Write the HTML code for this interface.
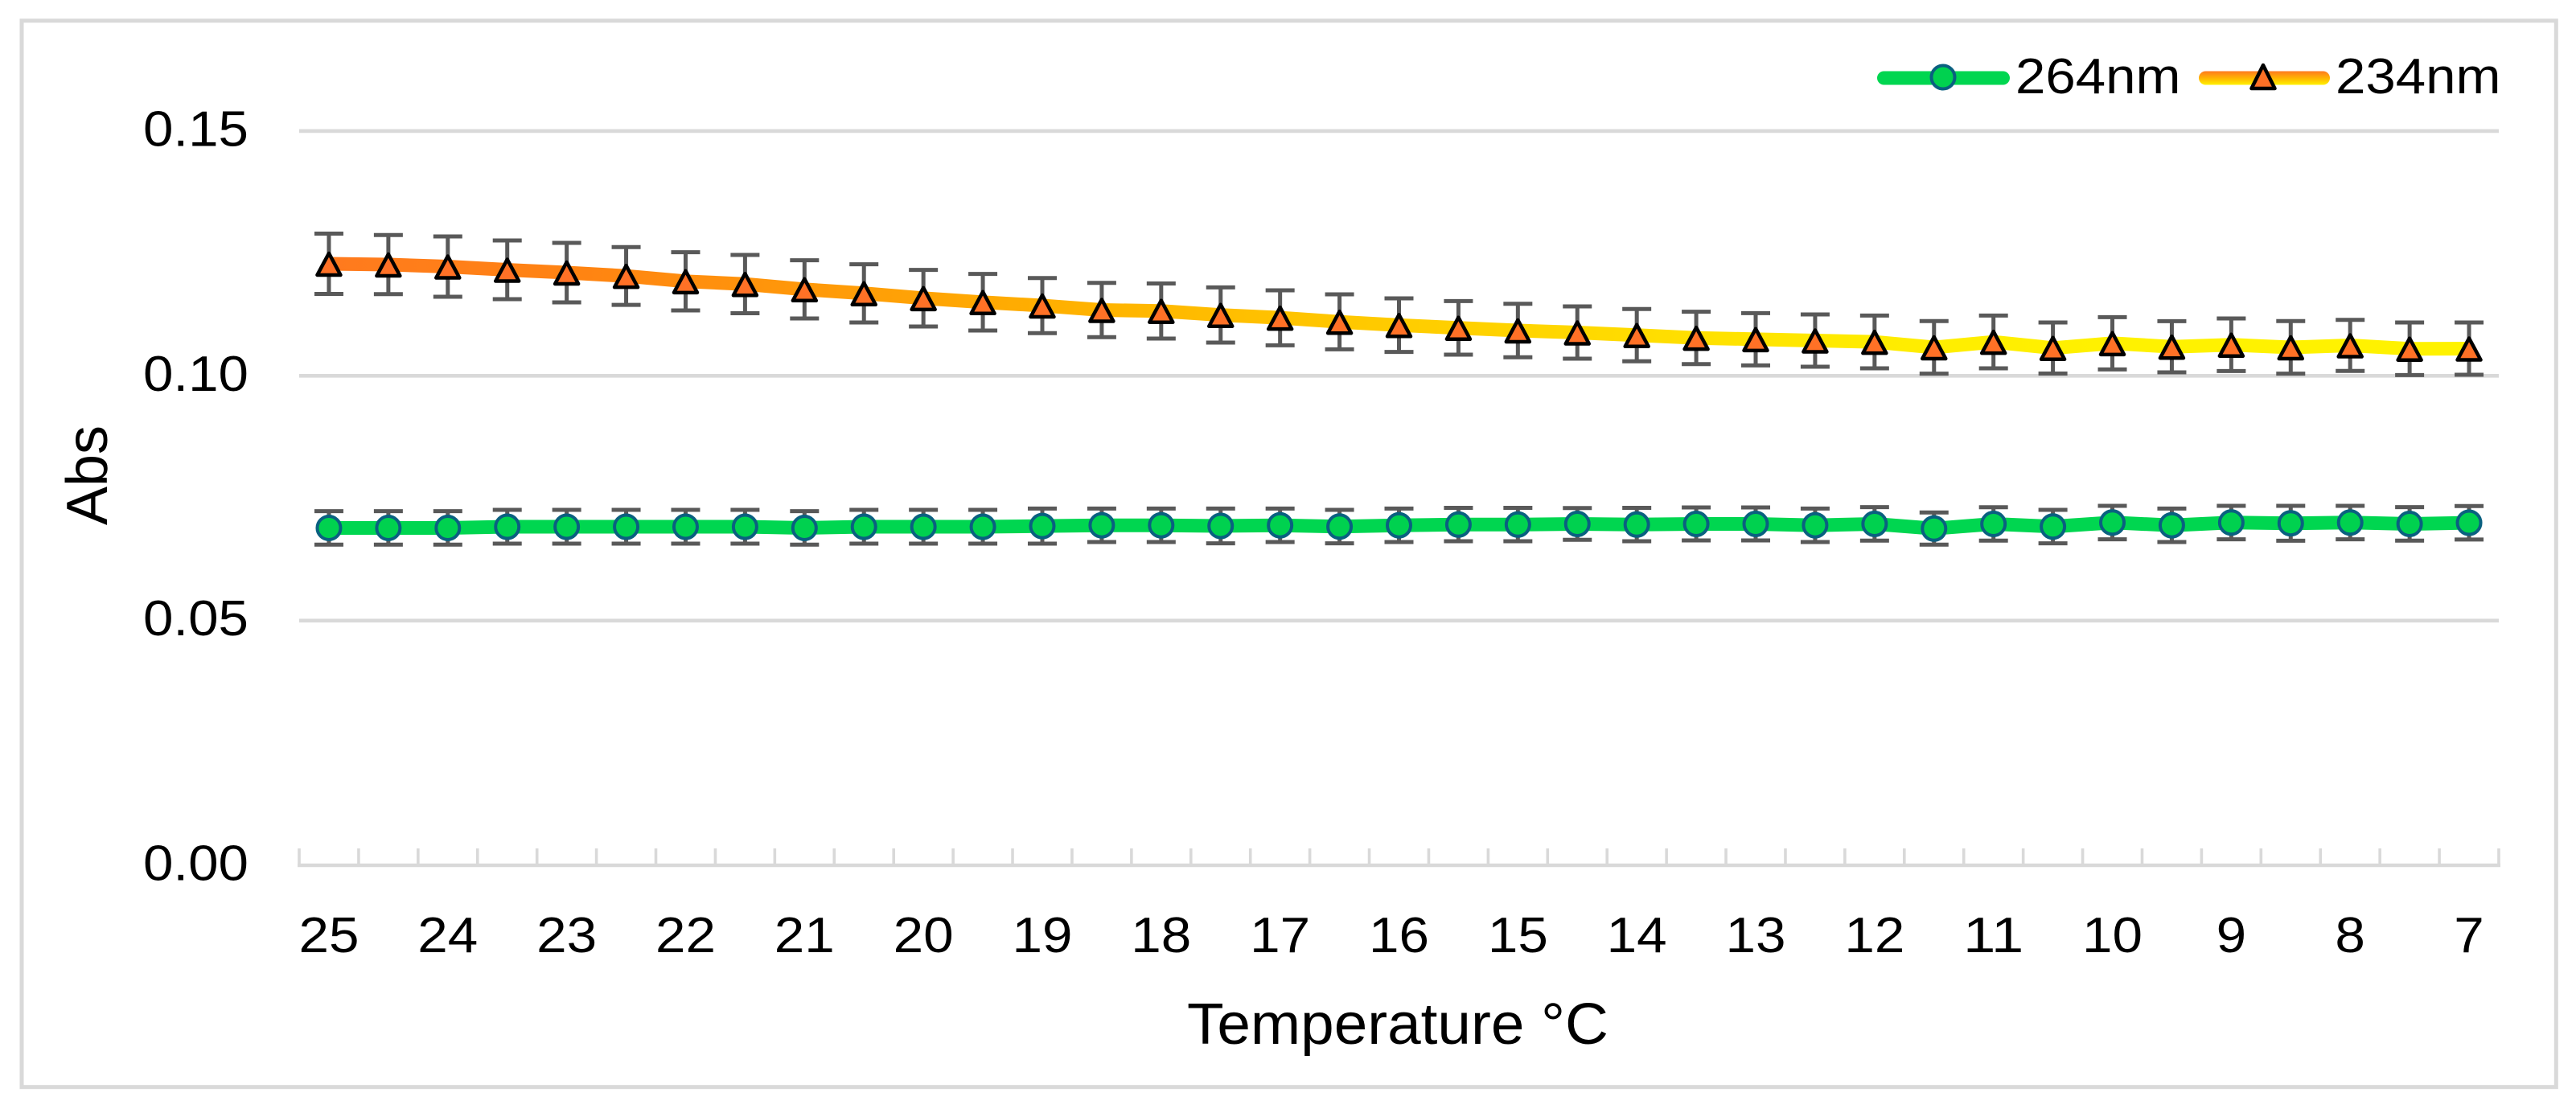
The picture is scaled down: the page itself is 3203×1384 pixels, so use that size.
<!DOCTYPE html>
<html lang="en">
<head>
<meta charset="utf-8">
<title>Absorbance vs Temperature</title>
<style>
html,body{margin:0;padding:0;background:#fff;width:3203px;height:1384px;overflow:hidden}
svg{display:block}
text{font-family:"Liberation Sans",sans-serif;fill:#000}
</style>
</head>
<body>
<svg id="chart" xmlns="http://www.w3.org/2000/svg" width="3203" height="1384" viewBox="0 0 3203 1384">
  <defs>
    <linearGradient id="orangeLine" gradientUnits="userSpaceOnUse" x1="409" y1="0" x2="3070" y2="0">
      <stop offset="0" stop-color="#ff7a1e"/>
      <stop offset="0.12" stop-color="#ff8412"/>
      <stop offset="0.34" stop-color="#ffb000"/>
      <stop offset="0.5" stop-color="#ffcc00"/>
      <stop offset="0.72" stop-color="#ffec00"/>
      <stop offset="0.85" stop-color="#fff200"/>
      <stop offset="1" stop-color="#fff200"/>
    </linearGradient>
    <linearGradient id="orangeLegend" x1="0" y1="0" x2="0" y2="1">
      <stop offset="0" stop-color="#ff7a1e"/>
      <stop offset="0.55" stop-color="#ffb800"/>
      <stop offset="1" stop-color="#fff200"/>
    </linearGradient>
  </defs>
  <rect x="27" y="25.7" width="3151.3" height="1326" fill="#fff" stroke="#d9d9d9" stroke-width="5"/>
  <g id="grid"></g>
  <g id="yLabels"></g>
  <g id="xAxis"></g>
  <g id="xLabels"></g>
  <text transform="translate(133,591) rotate(-90)" x="-62" y="0" font-size="72" textLength="124" lengthAdjust="spacingAndGlyphs">Abs</text>
  <text x="1476" y="1298" font-size="72" textLength="524" lengthAdjust="spacingAndGlyphs">Temperature °C</text>
  <g id="series264"></g>
  <g id="series234"></g>
  <g>
    <g>
      <rect x="2334" y="88.5" width="165" height="17" rx="8.5" fill="#00d650"/>
      <circle cx="2416" cy="96" r="14.5" fill="#00d14f" stroke="#0a6080" stroke-width="4"/>
      <text x="2506" y="116" font-size="62.5" textLength="205.5" lengthAdjust="spacingAndGlyphs">264nm</text>
    </g>
    <g>
      <rect x="2734" y="88.5" width="163" height="17" rx="8.5" fill="url(#orangeLegend)"/>
      <path d="M2814 81 L2828.5 110 L2799.5 110 Z" fill="#ff7126" stroke="#000" stroke-width="4.5" stroke-linejoin="round"/>
      <text x="2904" y="116" font-size="62.5" textLength="205.5" lengthAdjust="spacingAndGlyphs">234nm</text>
    </g>
  </g>
</svg>
<script>
const categories = [25,24.5,24,23.5,23,22.5,22,21.5,21,20.5,20,19.5,19,18.5,18,17.5,17,16.5,16,15.5,15,14.5,14,13.5,13,12.5,12,11.5,11,10.5,10,9.5,9,8.5,8,7.5,7];
const yTicks = [0,0.05,0.10,0.15];
const yTickLabels = ["0.00","0.05","0.10","0.15"];
const values264 = [0.06892,0.06892,0.06892,0.06916,0.06916,0.06916,0.06916,0.06916,0.06892,0.06916,0.06916,0.06916,0.06930,0.06946,0.06946,0.06933,0.06946,0.06920,0.06946,0.06961,0.06961,0.06974,0.06961,0.06974,0.06974,0.06946,0.06974,0.06879,0.06974,0.06920,0.07002,0.06946,0.07002,0.06987,0.07002,0.06974,0.06998];
const errors264 = [0.00342,0.00342,0.00342,0.00345,0.00345,0.00345,0.00345,0.00345,0.00342,0.00345,0.00345,0.00345,0.00358,0.00342,0.00342,0.00356,0.00342,0.00342,0.00342,0.00341,0.00341,0.00325,0.00341,0.00336,0.00336,0.00342,0.00342,0.00328,0.00341,0.00342,0.00342,0.00342,0.00342,0.00356,0.00342,0.00342,0.00342];
const values234 = [0.12289,0.12272,0.12231,0.12165,0.12108,0.12039,0.11930,0.11874,0.11766,0.11684,0.11585,0.11503,0.11434,0.11344,0.11324,0.11242,0.11185,0.11102,0.11035,0.10979,0.10925,0.10884,0.10830,0.10774,0.10747,0.10720,0.10692,0.10580,0.10692,0.10567,0.10665,0.10593,0.10634,0.10580,0.10621,0.10552,0.10555];
const errors234 = [0.00616,0.00603,0.00616,0.00600,0.00608,0.00591,0.00595,0.00595,0.00595,0.00595,0.00578,0.00578,0.00563,0.00555,0.00563,0.00563,0.00562,0.00562,0.00547,0.00547,0.00547,0.00534,0.00534,0.00534,0.00534,0.00534,0.00539,0.00537,0.00539,0.00522,0.00534,0.00522,0.00537,0.00537,0.00522,0.00537,0.00534];

const SVGNS = 'http://www.w3.org/2000/svg';
const plotLeft = 372, plotRight = 3107, plotBottom = 1076, pxPerUnit = 6087;
const band = (plotRight - plotLeft) / categories.length;
function xScale(i){ return plotLeft + band * (i + 0.5); }
function yScale(v){ return plotBottom - v * pxPerUnit; }
function make(tag, attrs, parent){
  const el = document.createElementNS(SVGNS, tag);
  for (const k in attrs) el.setAttribute(k, attrs[k]);
  parent.appendChild(el);
  return el;
}

const gridG = document.getElementById('grid');
const yLabelG = document.getElementById('yLabels');
yTicks.forEach(function(t, i){
  if (t !== 0) {
    const gl = make('line', {x1:plotLeft, x2:plotRight, y1:yScale(t), y2:yScale(t), stroke:'#d9d9d9', 'stroke-width':4.6}, gridG);
    
    
  }
  const lab = make('text', {x:178, y:yScale(t) + 18.5, 'font-size':62.5, textLength:131, lengthAdjust:'spacingAndGlyphs'}, yLabelG);
  lab.textContent = yTickLabels[i];
  
  
});

const xAxisG = document.getElementById('xAxis');
const axisLine = make('line', {x1:plotLeft - 2, x2:plotRight + 2, y1:plotBottom, y2:plotBottom, stroke:'#d9d9d9', 'stroke-width':4.4}, xAxisG);


for (let i = 0; i <= categories.length; i++) {
  const tx = plotLeft + band * i;
  const tick = make('line', {x1:tx, x2:tx, y1:1055, y2:plotBottom, stroke:'#d9d9d9', 'stroke-width':3.6}, xAxisG);
  
  
}

const xLabelG = document.getElementById('xLabels');
categories.forEach(function(c, i){
  if (!Number.isInteger(c)) return;
  const str = String(c);
  const len = str.length * 37.5;
  const lab = make('text', {x:xScale(i) - len / 2, y:1184, 'font-size':62.5, textLength:len, lengthAdjust:'spacingAndGlyphs'}, xLabelG);
  lab.textContent = str;
  
  
});

function linePoints(vals){
  return vals.map(function(v, i){ return xScale(i).toFixed(2) + ',' + yScale(v).toFixed(2); }).join(' ');
}
function drawErrors(parent, vals, errs){
  vals.forEach(function(v, i){
    const x = xScale(i), hi = yScale(v + errs[i]), lo = yScale(v - errs[i]);
    const d = 'M' + x + ' ' + hi + 'V' + lo + 'M' + (x - 18) + ' ' + hi + 'H' + (x + 18) + 'M' + (x - 18) + ' ' + lo + 'H' + (x + 18);
    const bar = make('path', {d:d, fill:'none', stroke:'#595959', 'stroke-width':5}, parent);
    
    
  });
}

const g264 = document.getElementById('series264');
const line264 = make('polyline', {points:linePoints(values264), fill:'none', stroke:'#00d650', 'stroke-width':17, 'stroke-linejoin':'round'}, g264);


drawErrors(g264, values264, errors264);
values264.forEach(function(v, i){
  const pt = make('circle', {cx:xScale(i), cy:yScale(v), r:14.5, fill:'#00d14f', stroke:'#0a6080', 'stroke-width':4}, g264);
  
  
});

const g234 = document.getElementById('series234');
const line234 = make('polyline', {points:linePoints(values234), fill:'none', stroke:'url(#orangeLine)', 'stroke-width':17, 'stroke-linejoin':'round'}, g234);


drawErrors(g234, values234, errors234);
values234.forEach(function(v, i){
  const x = xScale(i), y = yScale(v);
  const d = 'M' + x + ' ' + (y - 13) + 'L' + (x + 14.5) + ' ' + (y + 14) + 'L' + (x - 14.5) + ' ' + (y + 14) + 'Z';
  const pt = make('path', {d:d, fill:'#ff7126', stroke:'#000', 'stroke-width':4.5, 'stroke-linejoin':'round'}, g234);
  
  
});
</script>
</body>
</html>
